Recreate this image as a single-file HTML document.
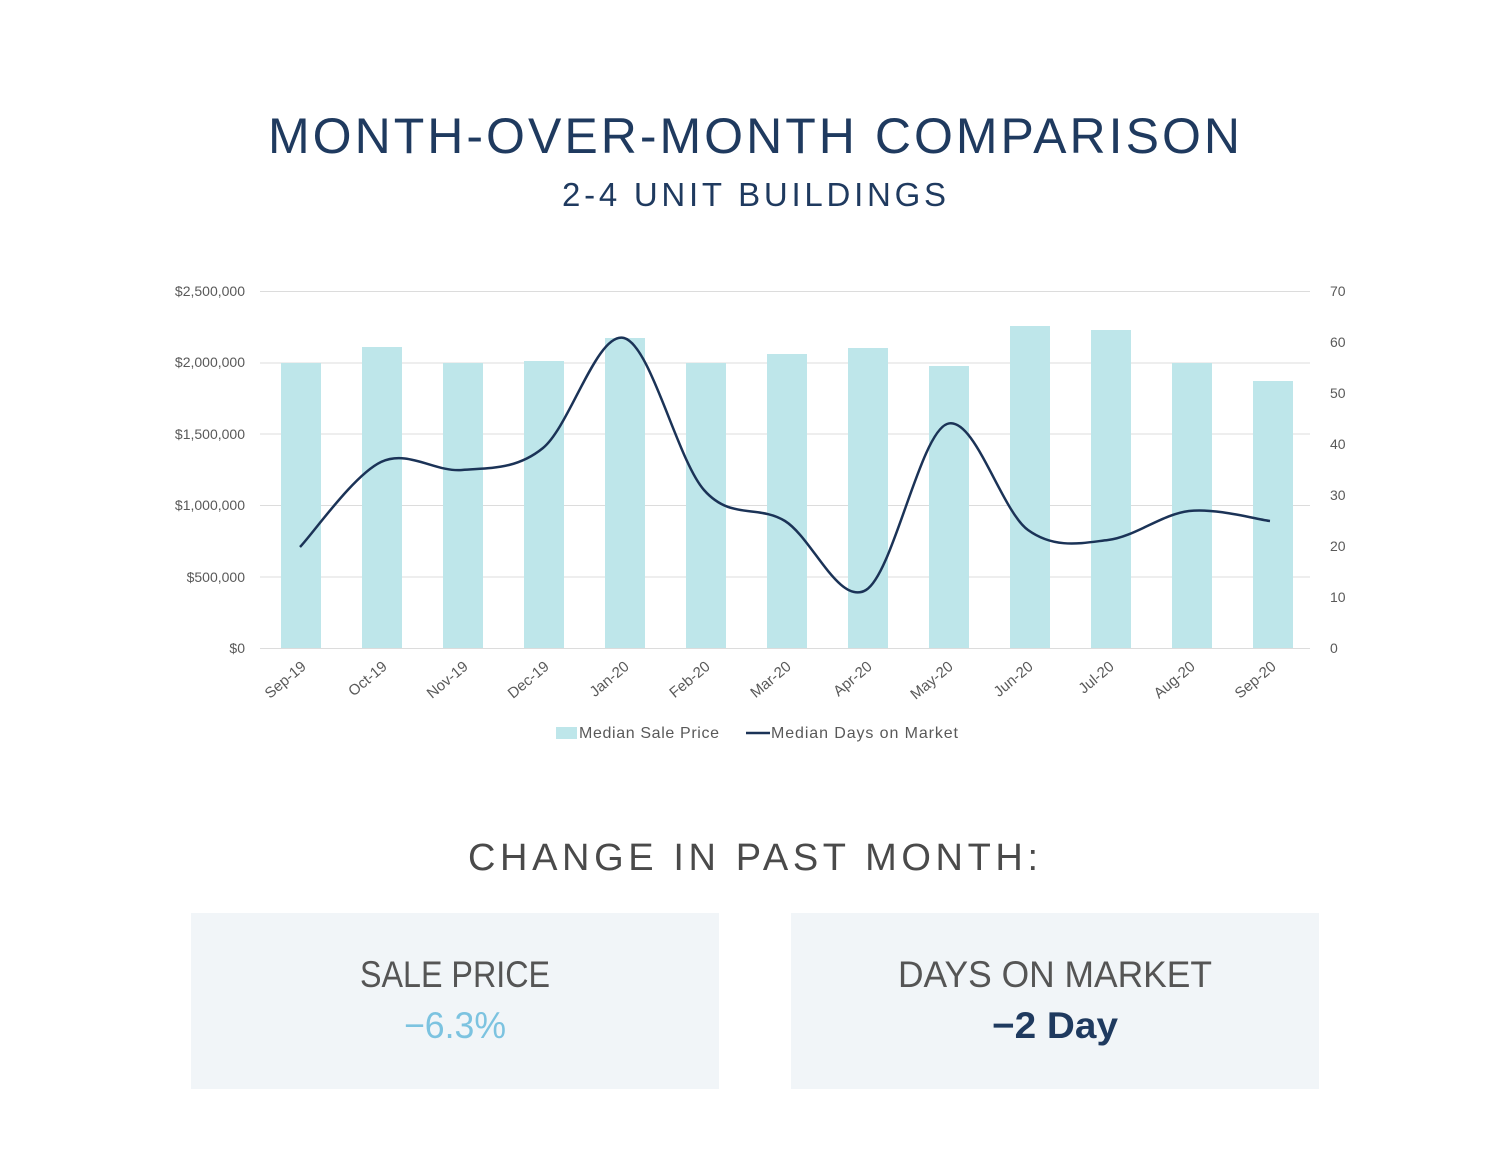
<!DOCTYPE html>
<html><head><meta charset="utf-8"><style>
html,body{margin:0;padding:0;background:#fff;}
svg{display:block;font-family:"Liberation Sans",sans-serif;}
</style></head><body>
<svg width="1500" height="1162" viewBox="0 0 1500 1162">
<text x="754" y="153" text-anchor="middle" font-size="50" fill="#1f3a5f" textLength="972" lengthAdjust="spacing">MONTH-OVER-MONTH COMPARISON</text>
<text x="754" y="206" text-anchor="middle" font-size="33" fill="#1f3a5f" textLength="384" lengthAdjust="spacing">2-4 UNIT BUILDINGS</text>
<g stroke="#dcdcdc" stroke-width="1">
<line x1="260" y1="291.5" x2="1310" y2="291.5"/><line x1="260" y1="363" x2="1310" y2="363"/><line x1="260" y1="434" x2="1310" y2="434"/><line x1="260" y1="505.5" x2="1310" y2="505.5"/><line x1="260" y1="577" x2="1310" y2="577"/><line x1="260" y1="648.5" x2="1310" y2="648.5"/>
</g>
<g fill="#bee6ea">
<rect x="281" y="363" width="40" height="285"/><rect x="362" y="347" width="40" height="301"/><rect x="443" y="363" width="40" height="285"/><rect x="524" y="361" width="40" height="287"/><rect x="605" y="338" width="40" height="310"/><rect x="686" y="363" width="40" height="285"/><rect x="767" y="354" width="40" height="294"/><rect x="848" y="348" width="40" height="300"/><rect x="929" y="366" width="40" height="282"/><rect x="1010" y="326" width="40" height="322"/><rect x="1091" y="330" width="40" height="318"/><rect x="1172" y="363" width="40" height="285"/><rect x="1253" y="381" width="40" height="267"/>
</g>
<path fill="none" stroke="#1b3357" stroke-width="2.5" d="M300,547 C313.5,532.8 354,474.8 381,462 C408,449.2 435,472.3 462,470 C489,467.7 516,470 543,448 C570,426 597.2,331 624,338 C650.8,345 677.2,459.5 704,490 C730.8,520.5 758,504.3 785,521 C812,537.7 839,606.2 866,590 C893,573.8 920,434 947,424 C974,414 1001.2,510.7 1028,530 C1054.8,549.3 1081.2,543.2 1108,540 C1134.8,536.8 1162,514.2 1189,511 C1216,507.8 1256.5,519.3 1270,521"/>
<g font-size="14" fill="#595959" text-anchor="end">
<text x="245" y="296">$2,500,000</text><text x="245" y="367">$2,000,000</text><text x="245" y="439">$1,500,000</text><text x="245" y="510">$1,000,000</text><text x="245" y="582">$500,000</text><text x="245" y="653">$0</text>
</g>
<g font-size="14" fill="#595959">
<text x="1330" y="296">70</text><text x="1330" y="347">60</text><text x="1330" y="398">50</text><text x="1330" y="449">40</text><text x="1330" y="500">30</text><text x="1330" y="551">20</text><text x="1330" y="602">10</text><text x="1330" y="653">0</text>
</g>
<g font-size="15" fill="#595959" text-anchor="end">
<text transform="translate(307,668) rotate(-40)">Sep-19</text>
<text transform="translate(388,668) rotate(-40)">Oct-19</text>
<text transform="translate(469,668) rotate(-40)">Nov-19</text>
<text transform="translate(550,668) rotate(-40)">Dec-19</text>
<text transform="translate(630,668) rotate(-40)">Jan-20</text>
<text transform="translate(711,668) rotate(-40)">Feb-20</text>
<text transform="translate(792,668) rotate(-40)">Mar-20</text>
<text transform="translate(873,668) rotate(-40)">Apr-20</text>
<text transform="translate(954,668) rotate(-40)">May-20</text>
<text transform="translate(1034,668) rotate(-40)">Jun-20</text>
<text transform="translate(1115,668) rotate(-40)">Jul-20</text>
<text transform="translate(1196,668) rotate(-40)">Aug-20</text>
<text transform="translate(1277,668) rotate(-40)">Sep-20</text>
</g>
<rect x="556" y="727" width="21" height="12" fill="#bee6ea"/>
<text x="579" y="738" font-size="16" fill="#595959" textLength="140">Median Sale Price</text>
<line x1="746" y1="733" x2="770" y2="733" stroke="#1b3357" stroke-width="2.5"/>
<text x="771" y="738" font-size="16" fill="#595959" textLength="187">Median Days on Market</text>
<text x="753" y="870" text-anchor="middle" font-size="38" fill="#4a4a4a" textLength="570" lengthAdjust="spacing">CHANGE IN PAST MONTH:</text>
<rect x="191" y="913" width="528" height="176" fill="#f1f5f8"/>
<rect x="791" y="913" width="528" height="176" fill="#f1f5f8"/>
<text x="455" y="987" text-anchor="middle" font-size="37" fill="#555" textLength="190" lengthAdjust="spacingAndGlyphs">SALE PRICE</text>
<text x="455" y="1038" text-anchor="middle" font-size="37" fill="#7cc3e0" textLength="102" lengthAdjust="spacingAndGlyphs">−6.3%</text>
<text x="1055" y="987" text-anchor="middle" font-size="37" fill="#555" textLength="314" lengthAdjust="spacingAndGlyphs">DAYS ON MARKET</text>
<text x="1055" y="1038" text-anchor="middle" font-size="37" font-weight="bold" fill="#1f3a5f" textLength="126" lengthAdjust="spacingAndGlyphs">−2 Day</text>
</svg>
</body></html>
